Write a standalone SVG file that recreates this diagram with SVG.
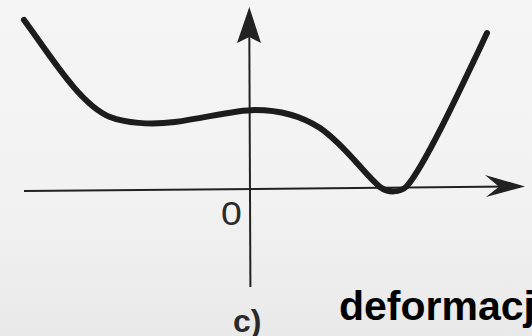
<svg xmlns="http://www.w3.org/2000/svg" width="532" height="336" viewBox="0 0 532 336">
  <defs>
    <linearGradient id="bg" x1="0" y1="0" x2="0" y2="1">
      <stop offset="0" stop-color="#f5f5f5"/>
      <stop offset="0.6" stop-color="#f2f2f2"/>
      <stop offset="1" stop-color="#e9e9e9"/>
    </linearGradient>
    <style>
      .axis { stroke: #222; stroke-width: 2; fill: none; }
      .head { fill: #222; stroke: none; }
      .curve { stroke: #1c1c1c; stroke-width: 6; fill: none; stroke-linecap: round; stroke-linejoin: round; }
      .lbl { font-family: "Liberation Sans", Arial, sans-serif; fill: #2a2a2a; }
      .big { font-family: "Liberation Sans", Arial, sans-serif; font-weight: bold; fill: #000; }
    </style>
  </defs>
  <rect x="0" y="0" width="532" height="336" fill="url(#bg)"/>
  <g id="connectors">
    <g id="x-axis">
      <line class="axis" x1="24" y1="191" x2="520" y2="186.5"/>
      <path class="head" d="M525,186.5 L485,175 L499,186.8 L486,197 Z"/>
    </g>
    <g id="y-axis">
      <line class="axis" x1="250.4" y1="287" x2="249.3" y2="30"/>
      <path class="head" d="M249.3,7 L237,43 L249.3,37 L261,43 Z"/>
    </g>
  </g>
  <g id="curve">
    <path class="curve" d="M24,20 C50,55 80,105 110,117 C125,123 150,125 175,122 C205,118 235,110 255,110 C280,110 300,115 320,128 C345,145 365,175 380,187 C388,193 400,193 407,186 C425,165 460,90 487,33"/>
  </g>
  <g id="origin-label">
    <text class="lbl" x="221" y="225" font-size="34" transform="translate(221 225) scale(1.1 1) translate(-221 -225)">0</text>
  </g>
  <g id="caption">
    <text class="lbl" x="233" y="332" font-size="32" font-weight="bold">c)</text>
  </g>
  <g id="title">
    <text class="big" x="339" y="320" font-size="41">deformacj</text>
  </g>
</svg>
